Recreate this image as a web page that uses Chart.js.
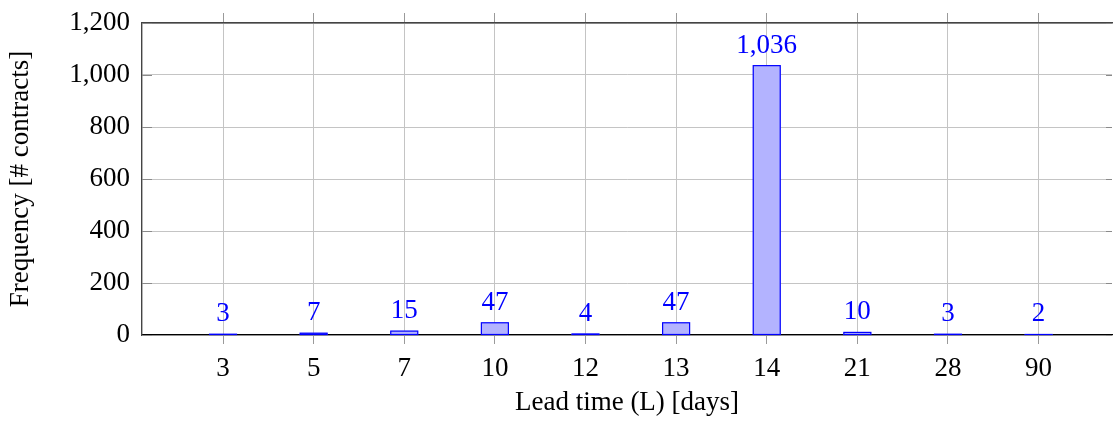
<!DOCTYPE html>
<html>
<head>
<meta charset="utf-8">
<script src="https://cdn.jsdelivr.net/npm/chart.js@4/dist/chart.umd.min.js"></script>
<style>
  html, body { margin:0; padding:0; background:#fff; }
  #wrap { width:1113px; height:421px; position:relative; }
</style>
</head>
<body>
<div id="wrap"><canvas id="chart-lead-time"></canvas></div>
<script>
// ── Lead time histogram ───────────────────────────────────────────────
const leadTimes = ['3', '5', '7', '10', '12', '13', '14', '21', '28', '90'];
const contracts = [3, 7, 15, 47, 4, 47, 1036, 10, 3, 2];
const yTicks = [0, 200, 400, 600, 800, 1000, 1200];

const FONT = "'Liberation Serif', 'Times New Roman', serif";
const SIZE = 27;
const BLUE = '#0000ff';
const GRID = '#c4c4c4';
const X_MIN = -0.894, X_MAX = 9.81;

const fmt = v => v.toLocaleString('en-US');
const catTicks = scale => { scale.ticks = leadTimes.map((_, i) => ({ value: i })); };
const noPad = s => { s.paddingTop = 0; s.paddingBottom = 0; s.paddingLeft = 0; s.paddingRight = 0; };

// bar outlines (kept visible on very short bars) + value labels above them
const barLabels = {
  id: 'barLabels',
  afterDatasetsDraw(chart) {
    const ctx = chart.ctx;
    const meta = chart.getDatasetMeta(0);
    ctx.save();
    ctx.strokeStyle = BLUE;
    ctx.lineWidth = 1.2;
    meta.data.forEach(bar => {
      const { x, y, base, width } = bar.getProps(['x', 'y', 'base', 'width'], true);
      ctx.strokeRect(x - width / 2, y, width, base - y);
    });
    ctx.font = SIZE + 'px ' + FONT;
    ctx.fillStyle = BLUE;
    ctx.textAlign = 'center';
    ctx.textBaseline = 'alphabetic';
    meta.data.forEach((bar, i) => ctx.fillText(fmt(contracts[i]), bar.x, bar.y - 13));
    ctx.restore();
  }
};

// short tick stubs inside the frame on both sides of the y axis
const yStubs = {
  id: 'yStubs',
  beforeDatasetsDraw(chart) {
    const { ctx, chartArea: a, scales: { y } } = chart;
    ctx.save();
    ctx.strokeStyle = '#8a8a8a';
    ctx.lineWidth = 1;
    yTicks.forEach(t => {
      const py = Math.round(y.getPixelForValue(t)) + 0.5;
      ctx.beginPath();
      ctx.moveTo(a.left, py); ctx.lineTo(a.left + 10, py);
      ctx.moveTo(a.right - 6, py); ctx.lineTo(a.right, py);
      ctx.stroke();
    });
    ctx.restore();
  }
};

new Chart(document.getElementById('chart-lead-time'), {
  type: 'bar',
  data: {
    datasets: [{
      data: contracts.map((v, i) => ({ x: i, y: v })),
      backgroundColor: '#b3b3ff',
      borderWidth: 0,
      barThickness: 27
    }]
  },
  options: {
    responsive: true, maintainAspectRatio: false, animation: false,
    layout: { padding: { top: 0, right: 1, bottom: 0, left: 0 } },
    plugins: { legend: { display: false }, tooltip: { enabled: false } },
    scales: {
      x: {
        type: 'linear', position: 'bottom', min: X_MIN, max: X_MAX, offset: false,
        afterBuildTicks: catTicks,
        afterFit: s => { s.height = 86; noPad(s); },
        ticks: { callback: (v, i) => leadTimes[i], color: '#000', font: { family: FONT, size: SIZE }, padding: 9, maxRotation: 0 },
        grid: { offset: false, color: GRID, tickLength: 9, tickColor: '#9a9a9a' },
        border: { display: true, color: '#000', width: 1.2 },
        title: { display: true, text: 'Lead time (L) [days]', color: '#000', font: { family: FONT, size: SIZE }, padding: { top: 0, bottom: 2 } }
      },
      xTop: {
        type: 'linear', position: 'top', min: X_MIN, max: X_MAX, offset: false,
        afterBuildTicks: catTicks,
        afterFit: s => { s.height = 23; noPad(s); },
        ticks: { display: false },
        grid: { offset: false, drawOnChartArea: false, tickLength: 10, color: '#9a9a9a' },
        border: { display: true, color: '#444', width: 1.6 }
      },
      y: {
        min: 0, max: 1200,
        afterBuildTicks: s => { s.ticks = yTicks.map(v => ({ value: v })); },
        afterFit: s => { s.width = 142; noPad(s); },
        ticks: { callback: v => fmt(v), color: '#000', font: { family: FONT, size: SIZE }, padding: 12 },
        grid: { color: GRID, drawTicks: false },
        border: { display: true, color: '#444', width: 1.4 },
        title: { display: true, text: 'Frequency [# contracts]', color: '#000', font: { family: FONT, size: SIZE }, padding: { top: 5, bottom: 0 } }
      }
    }
  },
  plugins: [yStubs, barLabels]
});
</script>
</body>
</html>
